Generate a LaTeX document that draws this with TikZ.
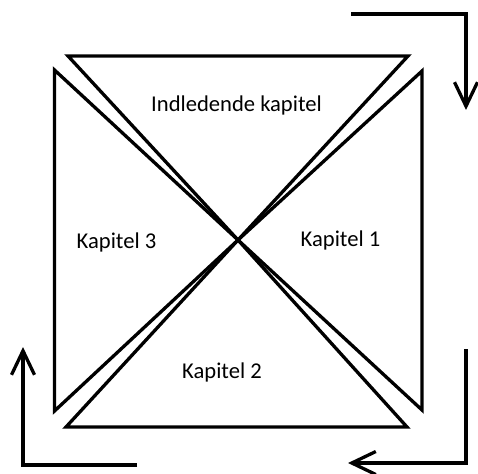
\documentclass[tikz,border=0pt]{standalone}
\usepackage{fontspec}
\setmainfont{Carlito}
\usetikzlibrary{arrows.meta}
\begin{document}
\begin{tikzpicture}[x=1pt,y=-1pt,
  tri/.style={line width=3.3pt,line join=miter},
  flow/.style={line width=3.3pt,line join=miter,-{Straight Barb[length=24pt,width=23pt,line width=3.3pt]}},
  lbl/.style={anchor=base,font=\fontsize{22.6}{27}\selectfont,inner sep=0pt}]
\useasboundingbox (0,0) rectangle (478,473);
\coordinate (C) at (238,240);
% triangles
\coordinate (t1) at (68,56);  \coordinate (t2) at (408,56);
\coordinate (r1) at (422,71); \coordinate (r2) at (422,410);
\coordinate (b1) at (407,427); \coordinate (b2) at (66,427);
\coordinate (l1) at (54.5,411); \coordinate (l2) at (54.5,70);
\draw[tri] (t1) -- (t2) -- (C) -- cycle;
\draw[tri] (r1) -- (r2) -- (C) -- cycle;
\draw[tri] (b1) -- (b2) -- (C) -- cycle;
\draw[tri] (l1) -- (l2) -- (C) -- cycle;
% labels
\node[lbl] (top) at (236.5,111.5) {Indledende kapitel};
\node[lbl] (k1) at (340.5,246.5) {Kapitel 1};
\node[lbl] (k2) at (222,378) {Kapitel 2};
\node[lbl] (k3) at (116.5,248) {Kapitel 3};
% arrows
\coordinate (a1s) at (351,14); \coordinate (a1c) at (466,14); \coordinate (a1e) at (466,110);
\coordinate (a2s) at (466,349); \coordinate (a2c) at (466,463); \coordinate (a2e) at (348,463);
\coordinate (a3s) at (137,465); \coordinate (a3c) at (23,465); \coordinate (a3e) at (23,347);
\draw[flow] (a1s) -- (a1c) -- (a1e);
\draw[flow] (a2s) -- (a2c) -- (a2e);
\draw[flow] (a3s) -- (a3c) -- (a3e);
\end{tikzpicture}
\end{document}
